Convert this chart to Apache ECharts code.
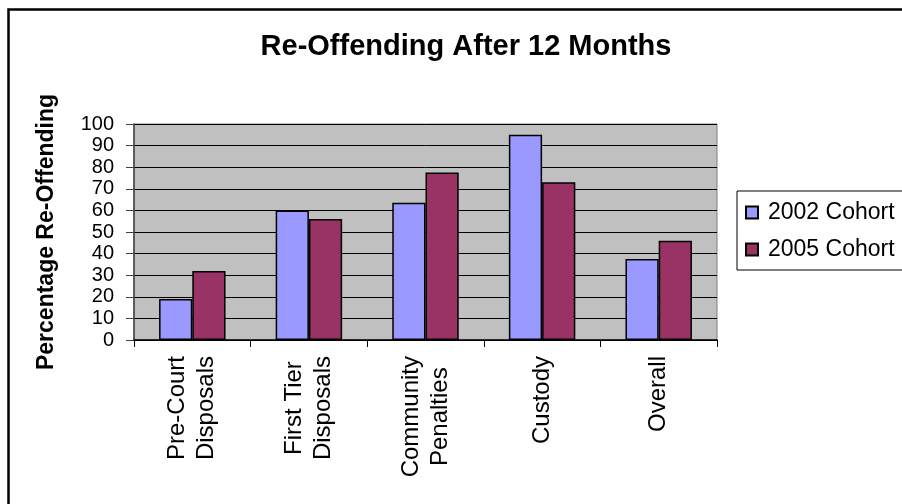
<!DOCTYPE html>
<html>
<head>
<meta charset="utf-8">
<title>Re-Offending After 12 Months</title>
<script src="https://cdn.jsdelivr.net/npm/echarts@6/dist/echarts.min.js"></script>
<style>
  html, body { margin: 0; padding: 0; background: #ffffff; }
  #chart { width: 902px; height: 504px; }
</style>
</head>
<body>
<div id="chart"></div>
<script>
// Disposal categories (two-line labels)
var categories = ['Pre-Court\nDisposals', 'First Tier\nDisposals', 'Community\nPenalties', 'Custody', 'Overall'];
// Percentage re-offending within 12 months
var cohort2002 = [19, 60, 63.5, 95, 37.5];
var cohort2005 = [32, 56, 77.5, 73, 46];
var seriesNames = ['2002 Cohort', '2005 Cohort'];
var yTicks = { min: 0, max: 100, interval: 10 };

var FONT = '"Liberation Sans", Arial, sans-serif';

var chart = echarts.init(document.getElementById('chart'), null, { renderer: 'canvas' });

chart.setOption({
  backgroundColor: '#ffffff',
  animation: false,
  title: {
    text: 'Re-Offending After 12 Months',
    left: 461,
    textAlign: 'center',
    top: 27,
    textStyle: { fontFamily: FONT, fontSize: 29, fontWeight: 'bold', color: '#000' }
  },
  graphic: [{
    type: 'rect',
    shape: { x: 8.5, y: 9.5, width: 1000, height: 1000 },
    style: { fill: 'none', stroke: '#000', lineWidth: 2.5 },
    silent: true
  }],
  legend: {
    orient: 'vertical',
    left: 737,
    top: 191,
    data: seriesNames,
    icon: 'rect',
    itemWidth: 12,
    itemHeight: 12,
    itemGap: 14,
    padding: [10, 40, 9, 8],
    borderColor: '#000',
    borderWidth: 1,
    backgroundColor: '#fff',
    textStyle: { fontFamily: FONT, fontSize: 23, color: '#000', padding: [0, 0, 0, 5] }
  },
  grid: {
    left: 134,
    right: 185,
    top: 124,
    bottom: 164,
    show: true,
    backgroundColor: '#c0c0c0',
    borderColor: '#808080',
    borderWidth: 1
  },
  xAxis: {
    type: 'category',
    data: categories,
    boundaryGap: true,
    axisLine: { lineStyle: { color: '#000', width: 1.5 } },
    axisTick: { show: true, length: 7, lineStyle: { color: '#000' } },
    axisLabel: {
      rotate: 90,
      margin: 16,
      fontFamily: FONT,
      fontSize: 24,
      color: '#000',
      lineHeight: 29,
      formatter: function (v) {
        return v.split('\n').map(function (s) { return '{c|' + s + '}'; }).join('\n');
      },
      rich: { c: { align: 'center', fontFamily: FONT, fontSize: 24, color: '#000', lineHeight: 29 } }
    }
  },
  yAxis: {
    type: 'value',
    min: yTicks.min,
    max: yTicks.max,
    interval: yTicks.interval,
    name: 'Percentage Re-Offending',
    nameLocation: 'middle',
    nameGap: 76,
    nameTextStyle: { fontFamily: FONT, fontSize: 23, fontWeight: 'bold', color: '#000' },
    axisLine: { show: true, lineStyle: { color: '#404040', width: 1.5 } },
    axisTick: { show: true, inside: false, length: 8, lineStyle: { color: '#404040' } },
    axisLabel: { fontFamily: FONT, fontSize: 20, color: '#000', margin: 20 },
    splitLine: { show: true, lineStyle: { color: '#000', width: 1 } }
  },
  series: [{
    name: seriesNames[0],
    type: 'bar',
    data: cohort2002,
    barGap: '0%',
    barCategoryGap: '43%',
    itemStyle: { color: '#9999ff', borderColor: '#000', borderWidth: 1.5 }
  }, {
    name: seriesNames[1],
    type: 'bar',
    data: cohort2005,
    barGap: '0%',
    barCategoryGap: '43%',
    itemStyle: { color: '#993366', borderColor: '#000', borderWidth: 1.5 }
  }]
});
</script>
</body>
</html>
